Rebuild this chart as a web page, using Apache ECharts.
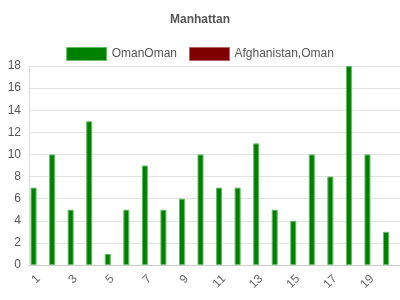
<!DOCTYPE html>
<html><head><meta charset="utf-8">
<script src="https://cdn.jsdelivr.net/npm/echarts@6/dist/echarts.min.js"></script>
<style>html,body{margin:0;padding:0;background:#fff}#c{width:400px;height:300px}</style>
</head><body><div id="c"></div>
<script>
const categories = ['1','2','3','4','5','6','7','8','9','10','11','12','13','14','15','16','17','18','19','20'];
const omanOman = [7,10,5,13,1,5,9,5,6,10,7,7,11,5,4,10,8,18,10,3];
const afghanistanOman = [0,0,0,0,0,0,0,0,0,0,0,0,0,0,0,0,0,0,0,0];
const seriesNames = ['OmanOman','Afghanistan,Oman'];
const yTicks = [0,2,4,6,8,10,12,14,16,18];

const chart = echarts.init(document.getElementById('c'), null, {renderer:'canvas'});
chart.setOption({
  animation:false,
  title:{text:'Manhattan',left:'center',top:9,textStyle:{fontSize:12,fontWeight:'bold',color:'#555',fontFamily:'Liberation Sans, Arial'}},
  legend:{top:42,left:'center',itemWidth:40,itemHeight:13,itemGap:12,icon:'rect',
    textStyle:{fontSize:12,color:'#555',fontFamily:'Liberation Sans, Arial'},
    data:[
      {name:seriesNames[0],itemStyle:{color:'#008000',borderColor:'#66bb66',borderWidth:1}},
      {name:seriesNames[1],itemStyle:{color:'#800000',borderColor:'#b36666',borderWidth:1}}
    ]},
  grid:{left:29,right:0,top:66,bottom:35,containLabel:false},
  xAxis:{type:'category',data:categories,
    axisLine:{lineStyle:{color:'#ccc'}},
    axisTick:{alignWithLabel:true,length:7,lineStyle:{color:'#ddd'},interval:(i)=>i%2===1},
    axisLabel:{interval:(i)=>i%2===0,rotate:45,fontSize:12,color:'#666',margin:12,fontFamily:'Liberation Sans, Arial'}},
  yAxis:{type:'value',min:yTicks[0],max:yTicks[yTicks.length-1],interval:2,
    axisLine:{show:true,lineStyle:{color:'#ddd'}},axisTick:{show:false},
    splitLine:{lineStyle:{color:'#e3e3e3'}},
    axisLabel:{fontSize:12,color:'#555',margin:8,fontFamily:'Liberation Sans, Arial'}},
  series:[
    {name:seriesNames[0],type:'bar',data:omanOman,barWidth:6,barGap:'57%',
      itemStyle:{color:'#008000',borderColor:'#66bb66',borderWidth:1}},
    {name:seriesNames[1],type:'bar',data:afghanistanOman,barWidth:6,
      itemStyle:{color:'#800000',borderWidth:0}}
  ]
});
</script></body></html>
